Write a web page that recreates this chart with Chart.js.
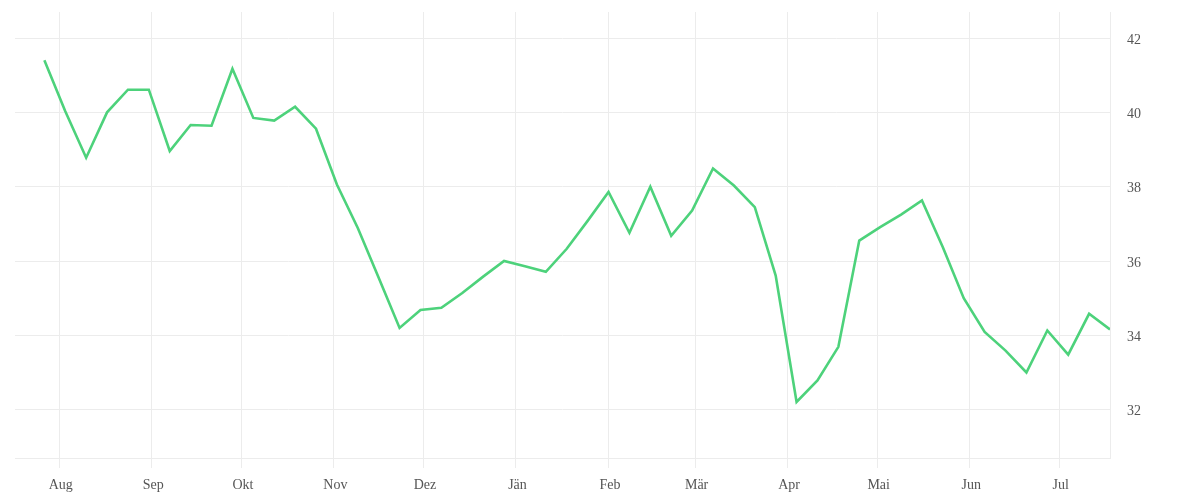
<!DOCTYPE html>
<html>
<head>
<meta charset="utf-8">
<script src="https://cdn.jsdelivr.net/npm/chart.js@4/dist/chart.umd.min.js"></script>
<style>
    html, body { margin: 0; padding: 0; background: #fff; }
    #wrap { width: 1200px; height: 500px; }
</style>
</head>
<body>
<div id="wrap"><canvas id="chart"></canvas></div>
<script>
/* ---------- DATA ---------- */
const weeks = [
    "2019-07-27", "2019-08-03", "2019-08-10", "2019-08-17", "2019-08-24", "2019-08-31",
    "2019-09-07", "2019-09-14", "2019-09-21", "2019-09-28",
    "2019-10-05", "2019-10-12", "2019-10-19", "2019-10-26",
    "2019-11-02", "2019-11-09", "2019-11-16", "2019-11-23", "2019-11-30",
    "2019-12-07", "2019-12-14", "2019-12-21", "2019-12-28",
    "2020-01-04", "2020-01-11", "2020-01-18", "2020-01-25",
    "2020-02-01", "2020-02-08", "2020-02-15", "2020-02-22", "2020-02-29",
    "2020-03-07", "2020-03-14", "2020-03-21", "2020-03-28",
    "2020-04-04", "2020-04-11", "2020-04-18", "2020-04-25",
    "2020-05-02", "2020-05-09", "2020-05-16", "2020-05-23", "2020-05-30",
    "2020-06-06", "2020-06-13", "2020-06-20", "2020-06-27",
    "2020-07-04", "2020-07-11", "2020-07-18"
];

const values = [
    41.40, 40.03, 38.78, 40.00, 40.61, 40.61,
    38.96, 39.66, 39.64, 41.17,
    39.85, 39.78, 40.15, 39.56,
    38.06, 36.89, 35.55, 34.20, 34.68,
    34.74, 35.14, 35.58, 36.00,
    35.86, 35.71, 36.33, 37.08,
    37.86, 36.76, 38.00, 36.68, 37.36,
    38.49, 38.03, 37.45, 35.61,
    32.21, 32.79, 33.69, 36.55,
    36.91, 37.25, 37.63, 36.37, 35.00,
    34.09, 33.59, 33.00, 34.13,
    33.48, 34.58, 34.16
];

const monthStarts = [
    "2019-08-01", "2019-09-01", "2019-10-01", "2019-11-01", "2019-12-01",
    "2020-01-01", "2020-02-01", "2020-03-01", "2020-04-01", "2020-05-01",
    "2020-06-01", "2020-07-01"
];
const monthLabels = ["Aug", "Sep", "Okt", "Nov", "Dez", "Jän", "Feb", "Mär", "Apr", "Mai", "Jun", "Jul"];

const yTicks = [32, 34, 36, 38, 40, 42];

/* ---------- HELPERS ---------- */
const DAY = 86400000;
const origin = Date.parse("2019-08-01");
const dayOf = s => (Date.parse(s) - origin) / DAY;

const monthDays = monthStarts.map(dayOf);
const points = weeks.map((w, i) => ({ x: dayOf(w), y: values[i] }));

const textColor = "#555";
const gridColor = "#ececec";
const font = { family: "'Liberation Serif', 'DejaVu Serif', serif", size: 14 };

/* ---------- CHART ---------- */
new Chart(document.getElementById("chart"), {
    type: "line",
    data: {
        datasets: [{
            data: points,
            borderColor: "#4dd27b",
            borderWidth: 2.6,
            pointRadius: 0,
            tension: 0,
            fill: false
        }]
    },
    options: {
        responsive: true,
        maintainAspectRatio: false,
        animation: false,
        layout: { padding: { left: 15, top: 12, right: 0, bottom: 0 } },
        plugins: {
            legend: { display: false },
            tooltip: { enabled: false }
        },
        scales: {
            x: {
                type: "linear",
                min: -14.84,
                max: dayOf(weeks[weeks.length - 1]),
                afterBuildTicks: scale => {
                    scale.ticks = monthDays.map(v => ({ value: v }));
                },
                afterFit: scale => {
                    scale.height = 42;
                    scale.paddingLeft = 0;
                    scale.paddingRight = 0;
                },
                ticks: {
                    autoSkip: false,
                    maxRotation: 0,
                    padding: 9,
                    labelOffset: 1.5,
                    color: textColor,
                    font,
                    callback: v => monthLabels[monthDays.indexOf(v)]
                },
                grid: { color: gridColor, tickLength: 10, drawTicks: true },
                border: { color: gridColor }
            },
            y: {
                position: "right",
                min: 30.7,
                max: 42.7,
                afterBuildTicks: scale => {
                    scale.ticks = yTicks.map(v => ({ value: v }));
                },
                afterFit: scale => {
                    scale.width = 90;
                    scale.paddingTop = 0;
                    scale.paddingBottom = 0;
                },
                ticks: {
                    padding: 17,
                    labelOffset: 2,
                    color: textColor,
                    font
                },
                grid: { color: gridColor, drawTicks: false },
                border: { color: gridColor }
            }
        }
    }
});
</script>
</body>
</html>
